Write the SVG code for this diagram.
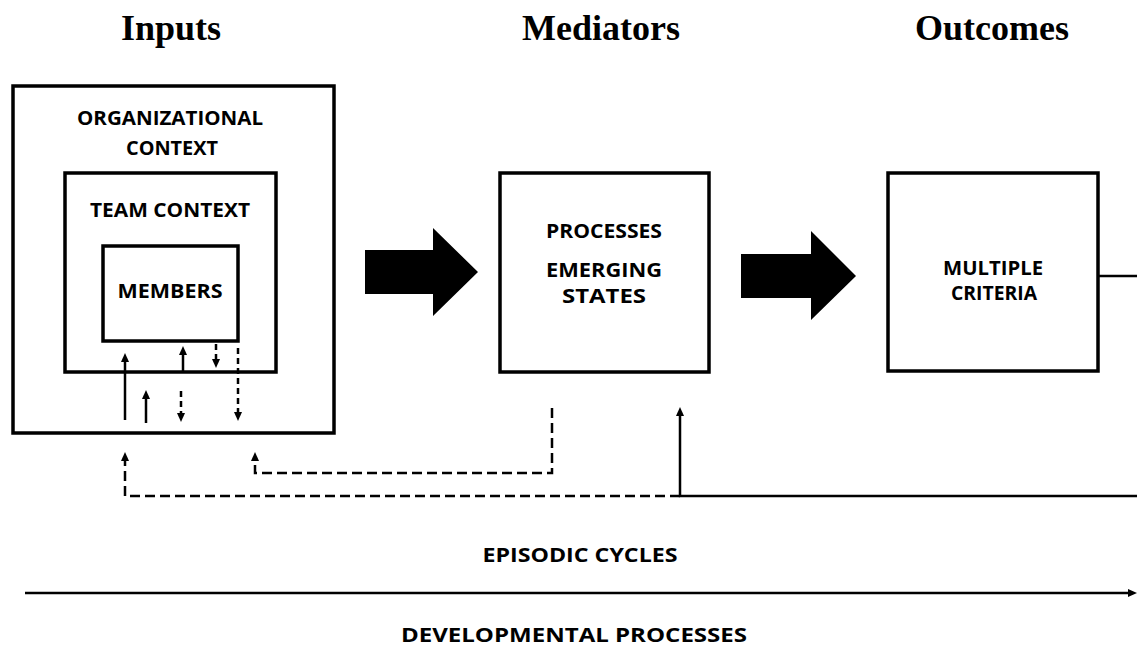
<svg xmlns="http://www.w3.org/2000/svg" width="1137" height="646" viewBox="0 0 1137 646">
<style>
.box{fill:#fff;stroke:#000;stroke-width:3.5}
.lbl{font-family:"Open Sans","Liberation Sans",sans-serif;font-weight:bold;font-size:19px;fill:#000;text-anchor:middle}
.ttl{font-family:"Liberation Serif","Times New Roman",serif;font-weight:bold;font-size:36px;fill:#000;text-anchor:middle}
.ln{fill:none;stroke:#000;stroke-width:2.5}
.sd{stroke-dasharray:6 4}
.ld{stroke-dasharray:10 5}
.big{fill:#000}
</style>
<defs>
<marker id="ah" markerUnits="userSpaceOnUse" viewBox="0 0 9 8" markerWidth="9" markerHeight="8" refX="0" refY="4" orient="auto">
<path d="M0,0 L9,4 L0,8 Z" fill="#000" stroke="none"/>
</marker>
</defs>
<g id="titles">
<text class="ttl" x="171" y="40">Inputs</text>
<text class="ttl" x="601" y="40">Mediators</text>
<text class="ttl" x="992" y="40">Outcomes</text>
</g>
<g id="org-context">
<rect class="box" x="13" y="86" width="321" height="347"/>
<text class="lbl" x="170" y="125" textLength="186" lengthAdjust="spacingAndGlyphs">ORGANIZATIONAL</text>
<text class="lbl" x="172" y="155" textLength="92" lengthAdjust="spacingAndGlyphs">CONTEXT</text>
</g>
<g id="team-context">
<rect class="box" x="65" y="173" width="211" height="199"/>
<text class="lbl" x="170" y="217" textLength="160" lengthAdjust="spacingAndGlyphs">TEAM CONTEXT</text>
</g>
<g id="members">
<rect class="box" x="103" y="246" width="135" height="95"/>
<text class="lbl" x="170" y="298" textLength="105" lengthAdjust="spacingAndGlyphs">MEMBERS</text>
</g>
<g id="arrow-inputs-mediators">
<polygon class="big" points="365,250 433,250 433,228 478,272 433,316 433,294 365,294"/>
</g>
<g id="mediators">
<rect class="box" x="500" y="173" width="209" height="199"/>
<text class="lbl" x="604" y="238" textLength="116" lengthAdjust="spacingAndGlyphs">PROCESSES</text>
<text class="lbl" x="604" y="277" textLength="116" lengthAdjust="spacingAndGlyphs">EMERGING</text>
<text class="lbl" x="604" y="303" textLength="84" lengthAdjust="spacingAndGlyphs">STATES</text>
</g>
<g id="arrow-mediators-outcomes">
<polygon class="big" points="741,254 811,254 811,231 856,276 811,320 811,298 741,298"/>
</g>
<g id="outcomes">
<rect class="box" x="888" y="173" width="210" height="198"/>
<text class="lbl" x="993" y="275" textLength="100" lengthAdjust="spacingAndGlyphs">MULTIPLE</text>
<text class="lbl" x="994" y="300" textLength="86" lengthAdjust="spacingAndGlyphs">CRITERIA</text>
</g>
<g id="connectors">
<line class="ln" x1="125" y1="420" x2="125" y2="362" marker-end="url(#ah)"/>
<line class="ln" x1="146" y1="423" x2="146" y2="399" marker-end="url(#ah)"/>
<line class="ln" x1="183" y1="371" x2="183" y2="355" marker-end="url(#ah)"/>
<line class="ln sd" x1="216" y1="344" x2="216" y2="359" marker-end="url(#ah)"/>
<line class="ln sd" x1="181" y1="391" x2="181" y2="413" marker-end="url(#ah)"/>
<line class="ln sd" x1="238" y1="348" x2="238" y2="412" marker-end="url(#ah)"/>
<path class="ln ld" d="M552,408 V473 H255 V461" marker-end="url(#ah)"/>
<path class="ln ld" d="M680,496 H125 V461" marker-end="url(#ah)"/>
<path class="ln" d="M1137,496 H680 V416" marker-end="url(#ah)"/>
<line class="ln" x1="1098" y1="276" x2="1137" y2="276"/>
<line class="ln" x1="25" y1="593" x2="1128" y2="593" stroke-width="2" marker-end="url(#ah)"/>
</g>
<g id="timeline-labels">
<text class="lbl" x="580" y="562" textLength="195" lengthAdjust="spacingAndGlyphs" font-size="21">EPISODIC CYCLES</text>
<text class="lbl" x="574" y="642" textLength="346" lengthAdjust="spacingAndGlyphs" font-size="21">DEVELOPMENTAL PROCESSES</text>
</g>
</svg>
